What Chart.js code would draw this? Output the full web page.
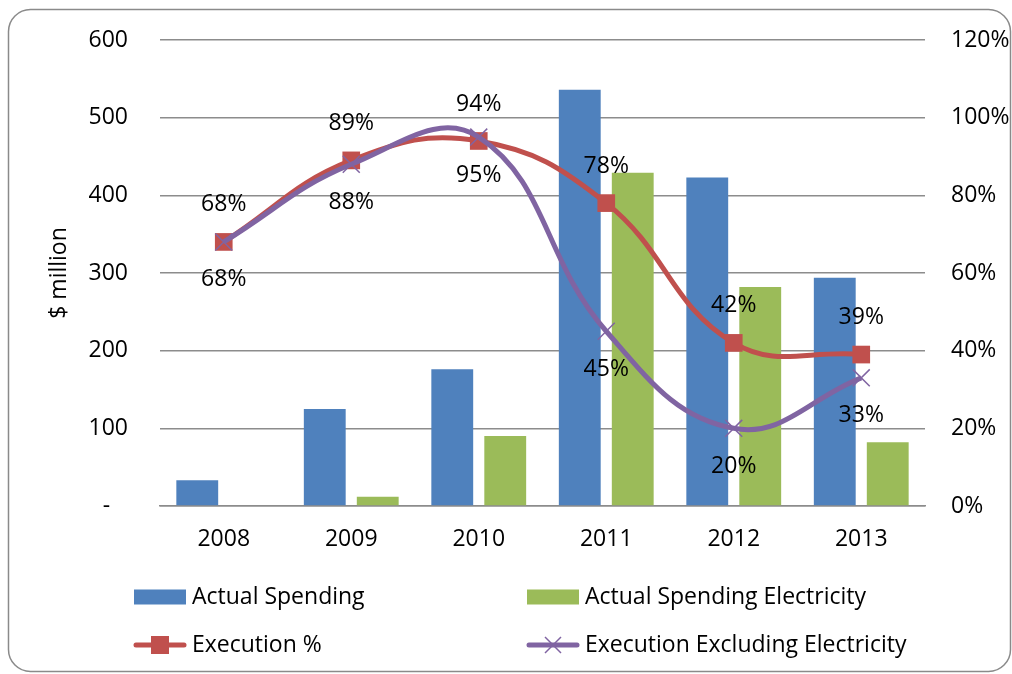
<!DOCTYPE html>
<html>
<head>
<meta charset="utf-8">
<script src="https://cdn.jsdelivr.net/npm/chart.js@4.4.1/dist/chart.umd.min.js"></script>
<style>
  html, body { margin: 0; padding: 0; background: #fff; }
  #wrap { width: 1012px; height: 674px; position: relative; }
</style>
</head>
<body>
<div id="wrap"><canvas id="c" width="1012" height="674"></canvas></div>
<script>
const categories = ['2008', '2009', '2010', '2011', '2012', '2013'];
const actualSpending = [33, 125, 176, 536, 423, 294];
const actualSpendingElectricity = [0, 12, 90, 429, 282, 82];
const executionPct = [68, 89, 94, 78, 42, 39];
const executionExclElectricity = [68, 88, 95, 45, 20, 33];
const leftTicks = [0, 100, 200, 300, 400, 500, 600];
const rightTicks = [0, 20, 40, 60, 80, 100, 120];

const FONT = "'Open Sans', sans-serif";
const FS = 23;
const BLUE = '#4F81BD', GREEN = '#9BBB59', RED = '#C0504D', PURPLE = '#8064A2';
const GRID = '#8c8c8c';

const framePlugin = {
  id: 'frame',
  beforeDraw(chart) {
    const ctx = chart.ctx;
    ctx.save();
    ctx.fillStyle = '#fff';
    ctx.fillRect(0, 0, chart.width, chart.height);
    ctx.beginPath();
    ctx.roundRect(8.5, 9.5, 1002, 662, 22);
    ctx.strokeStyle = '#8a8a8a';
    ctx.lineWidth = 1.5;
    ctx.stroke();
    ctx.restore();
  }
};

const labelPlugin = {
  id: 'pctLabels',
  afterDatasetsDraw(chart) {
    const ctx = chart.ctx;
    ctx.save();
    ctx.font = FS + 'px ' + FONT;
    ctx.fillStyle = '#000';
    ctx.textAlign = 'center';
    ctx.textBaseline = 'middle';
    const cfg = [[2, -37], [3, 38]];
    cfg.forEach(([di, off]) => {
      const meta = chart.getDatasetMeta(di);
      const vals = chart.data.datasets[di].data;
      meta.data.forEach((pt, i) => {
        ctx.fillText(vals[i] + '%', pt.x, pt.y + off);
      });
    });
    ctx.restore();
  }
};

const legendPlugin = {
  id: 'customLegend',
  afterDraw(chart) {
    const ctx = chart.ctx;
    const ds = chart.data.datasets;
    const cols = [134, 527];
    const rows = [597, 645];
    const items = [
      {d: ds[0], type: 'bar', c: 0, r: 0},
      {d: ds[1], type: 'bar', c: 1, r: 0},
      {d: ds[2], type: 'rect', c: 0, r: 1},
      {d: ds[3], type: 'cross', c: 1, r: 1}
    ];
    ctx.save();
    ctx.font = FS + 'px ' + FONT;
    ctx.textBaseline = 'middle';
    ctx.textAlign = 'left';
    items.forEach(it => {
      const x = cols[it.c], y = rows[it.r];
      if (it.type === 'bar') {
        ctx.fillStyle = it.d.backgroundColor;
        ctx.fillRect(x, y - 7.5, 52, 15);
      } else {
        ctx.strokeStyle = it.d.borderColor;
        ctx.lineWidth = 5;
        ctx.lineCap = 'round';
        ctx.beginPath();
        ctx.moveTo(x + 2, y);
        ctx.lineTo(x + 50, y);
        ctx.stroke();
        if (it.type === 'rect') {
          ctx.fillStyle = it.d.pointBackgroundColor;
          ctx.fillRect(x + 26 - 9, y - 9, 18, 18);
        } else {
          ctx.lineWidth = 1.5;
          ctx.lineCap = 'butt';
          ctx.beginPath();
          ctx.moveTo(x + 26 - 8, y - 8); ctx.lineTo(x + 26 + 8, y + 8);
          ctx.moveTo(x + 26 - 8, y + 8); ctx.lineTo(x + 26 + 8, y - 8);
          ctx.stroke();
        }
      }
      ctx.fillStyle = '#000';
      ctx.fillText(it.d.label, x + 58, y);
    });
    ctx.restore();
  }
};

new Chart(document.getElementById('c'), {
  data: {
    labels: categories,
    datasets: [
      {type: 'bar', label: 'Actual Spending', data: actualSpending, backgroundColor: BLUE,
       yAxisID: 'y', order: 2, categoryPercentage: 0.831, barPercentage: 0.79},
      {type: 'bar', label: 'Actual Spending Electricity', data: actualSpendingElectricity, backgroundColor: GREEN,
       yAxisID: 'y', order: 3, categoryPercentage: 0.831, barPercentage: 0.79},
      {type: 'line', label: 'Execution %', data: executionPct, borderColor: RED, backgroundColor: RED,
       pointBackgroundColor: RED, pointBorderColor: RED, pointStyle: 'rect', pointRadius: 12.5, pointBorderWidth: 0,
       borderWidth: 5, tension: 0.42, yAxisID: 'y1', order: 1, clip: false},
      {type: 'line', label: 'Execution Excluding Electricity', data: executionExclElectricity, borderColor: PURPLE, backgroundColor: PURPLE,
       pointBackgroundColor: PURPLE, pointBorderColor: PURPLE, pointStyle: 'crossRot', pointRadius: 12, pointBorderWidth: 1.5,
       borderWidth: 5, tension: 0.42, yAxisID: 'y1', order: 0, clip: false}
    ]
  },
  options: {
    responsive: false,
    animation: false,
    devicePixelRatio: 1,
    layout: {autoPadding: false, padding: {top: 40, left: 0, right: 0, bottom: 0}},
    plugins: {legend: {display: false}, tooltip: {enabled: false}},
    scales: {
      x: {
        grid: {display: false, drawTicks: false},
        border: {display: true, color: GRID, width: 1.5},
        ticks: {font: {family: FONT, size: FS}, color: '#000', padding: 20},
        afterFit(s) { s.height = 168; s.paddingLeft = 0; s.paddingRight = 0; }
      },
      y: {
        position: 'left', min: 0, max: 600,
        afterBuildTicks(s) { s.ticks = leftTicks.map(v => ({value: v})); },
        grid: {color: GRID, lineWidth: 1.5, drawTicks: false},
        border: {display: false},
        ticks: {font: {family: FONT, size: FS}, color: '#000', padding: 32,
                callback: v => v === 0 ? '-   ' : String(v)},
        title: {display: true, text: '$ million', font: {family: FONT, size: FS}, color: '#000', padding: {top: 46, bottom: 0}},
        afterFit(s) { s.width = 160; s.paddingTop = 0; s.paddingBottom = 0; }
      },
      y1: {
        position: 'right', min: 0, max: 120,
        afterBuildTicks(s) { s.ticks = rightTicks.map(v => ({value: v})); },
        grid: {display: false, drawTicks: false},
        border: {display: false},
        ticks: {font: {family: FONT, size: FS}, color: '#000', padding: 26, callback: v => v + '%'},
        afterFit(s) { s.width = 87; s.paddingTop = 0; s.paddingBottom = 0; }
      }
    }
  },
  plugins: [framePlugin, labelPlugin, legendPlugin]
});
</script>
</body>
</html>
